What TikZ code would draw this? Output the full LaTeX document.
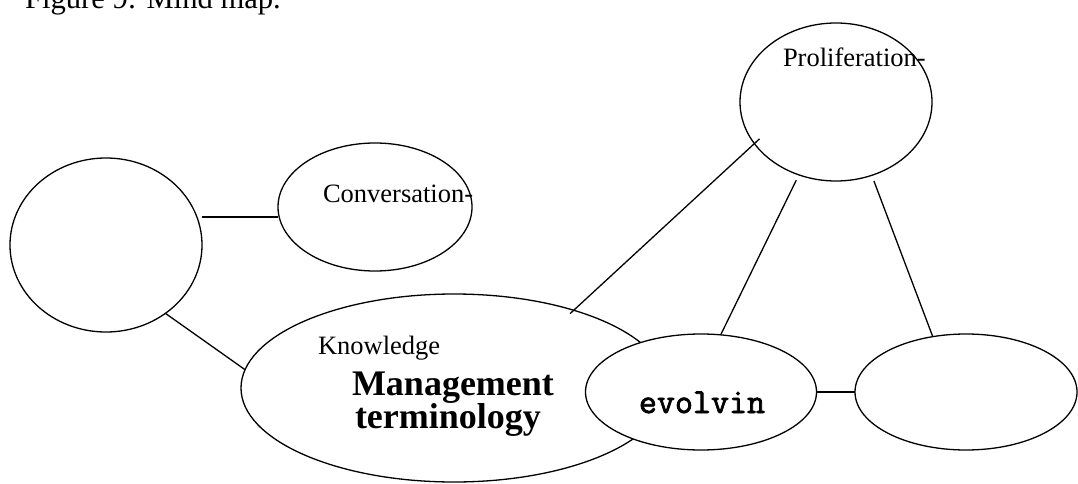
\documentclass[tikz,border=0pt]{standalone}
\usepackage{fontspec}
\setmainfont{Liberation Serif}
\newfontfamily\evfont[FakeBold=2.2]{Latin Modern Mono}
\usetikzlibrary{shapes.geometric}
\begin{document}
\begin{tikzpicture}[x=1pt,y=-1pt,
  bubble/.style={draw, ellipse, line width=1.3pt, fill=white, inner sep=0pt, outer sep=0pt},
  conn/.style={line width=1.3pt},
  lbl/.style={inner sep=0pt, outer sep=0pt, anchor=base west, font=\fontsize{26.5pt}{30pt}\selectfont},
  biglbl/.style={inner sep=0pt, outer sep=0pt, anchor=base west, font=\fontsize{36pt}{40pt}\selectfont\bfseries},
  monolbl/.style={inner sep=0pt, outer sep=0pt, anchor=base, font=\fontsize{35pt}{38pt}\selectfont\evfont},
  titlelbl/.style={inner sep=0pt, outer sep=0pt, anchor=base west, font=\fontsize{30.6pt}{34pt}\selectfont}]
\useasboundingbox (0,0) rectangle (1078,484);
\clip (0,0) rectangle (1078,484);
% title (cut off at the top)
\node[titlelbl] (title) at (25,9) {Figure 9: Mind map.};
% bubbles
\node[bubble, minimum width=192pt, minimum height=174pt] (L) at (106,245) {};
\node[bubble, minimum width=194pt, minimum height=128pt] (C) at (375,207) {};
\node[bubble, minimum width=192pt, minimum height=158pt] (P) at (836,102) {};
\node[bubble, minimum width=426pt, minimum height=188pt] (K) at (454,388) {};
\node[bubble, minimum width=231pt, minimum height=116pt] (E) at (701,392) {};
\node[bubble, minimum width=222pt, minimum height=116pt] (R) at (966,392) {};
% texts
\node[lbl] (ctext) at (323,202) {Conversation-};
\node[lbl] (ptext) at (783,67) {Proliferation-};
\node[lbl] (ktext) at (318,354) {Knowledge};
\node[biglbl] (mtext) at (352,395) {Management};
\node[biglbl] (ttext) at (355,428) {terminology};
\node[monolbl] (etext) at (702,413) {evolvin};
% connectors
\draw[conn] ([yshift=28pt]L.east) -- ([yshift=28pt]L.east -| C.west);
\draw[conn] (L.311.4) -- (K.175);
\draw[conn, shorten <=-5pt, shorten >=-7pt] (K.33.7) -- (P.207.2);
\draw[conn, shorten <=6pt] (P.243.8) -- (E.71.6);
\draw[conn, shorten <=6pt] (P.296.1) -- (R.121.3);
\draw[conn] (E.east) -- (R.west);
\end{tikzpicture}
\end{document}
